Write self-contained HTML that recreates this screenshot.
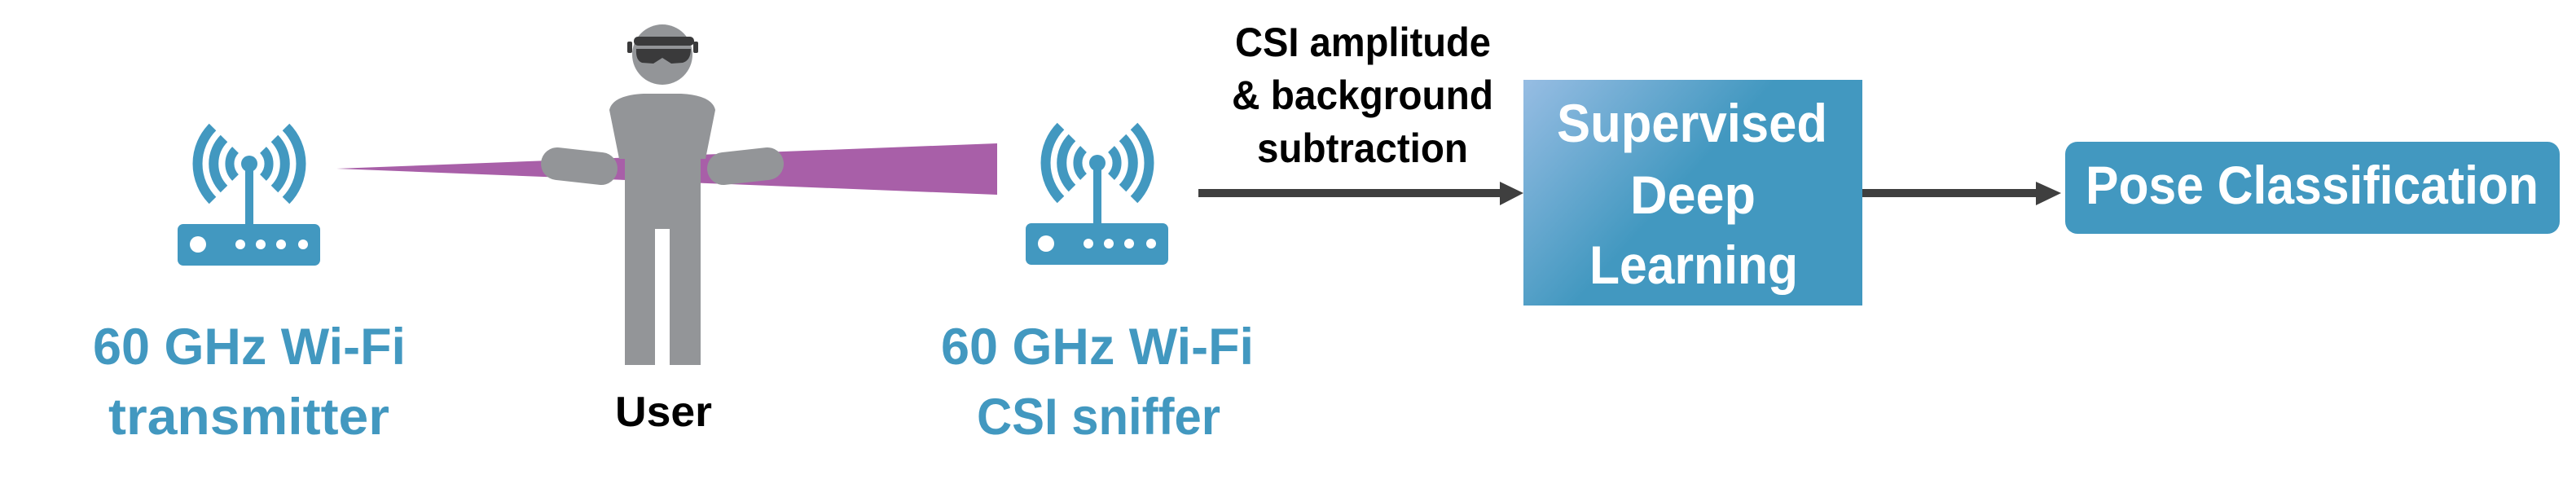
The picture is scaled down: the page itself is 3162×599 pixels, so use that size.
<!DOCTYPE html>
<html><head><meta charset="utf-8"><style>
html,body{margin:0;padding:0;background:#fff;}
svg{display:block;}
text{font-family:"Liberation Sans",sans-serif;font-weight:bold;}
</style></head><body>
<svg width="3162" height="599" viewBox="0 0 3162 599" xmlns="http://www.w3.org/2000/svg">
<defs>
<linearGradient id="g" x1="0" y1="0" x2="1" y2="0.6">
<stop offset="0" stop-color="#97bde3"/>
<stop offset="0.55" stop-color="#4298c0"/>
<stop offset="1" stop-color="#4298c0"/>
</linearGradient>
<g id="router">
<g fill="none" stroke="#4298c0" stroke-linecap="butt">
<path d="M261,156 A64,64 0 0 0 261,246" stroke-width="12"/>
<path d="M351,156 A64,64 0 0 1 351,246" stroke-width="12"/>
<path d="M275,170 A44,44 0 0 0 275,232" stroke-width="12"/>
<path d="M337,170 A44,44 0 0 1 337,232" stroke-width="12"/>
<path d="M289,184 A24,24 0 0 0 289,218" stroke-width="11"/>
<path d="M323,184 A24,24 0 0 1 323,218" stroke-width="11"/>
</g>
<circle cx="306" cy="201" r="10" fill="#4298c0"/>
<rect x="301" y="201" width="10" height="78" fill="#4298c0"/>
<rect x="218" y="275" width="175" height="51" rx="7" fill="#4298c0"/>
<circle cx="243" cy="300" r="10" fill="#fff"/>
<circle cx="295" cy="300" r="6" fill="#fff"/>
<circle cx="320" cy="300" r="6" fill="#fff"/>
<circle cx="345" cy="300" r="6" fill="#fff"/>
<circle cx="372" cy="300" r="6" fill="#fff"/>
</g>
</defs>

<!-- beam -->
<polygon points="413,207 1224,176 1224,239" fill="#a85fa8"/>

<!-- routers -->
<use href="#router"/>
<use href="#router" transform="translate(1041,-1)"/>

<!-- person -->
<g fill="#939598">
<circle cx="813" cy="67" r="37"/>
<path d="M760,195 L748,135 Q752,117 790,115 L836,115 Q874,117 878,135 L866,195 Z"/>
<line x1="684" y1="201" x2="738" y2="207" stroke="#939598" stroke-width="40" stroke-linecap="round"/>
<line x1="942" y1="201" x2="888" y2="207" stroke="#939598" stroke-width="40" stroke-linecap="round"/>
<rect x="767" y="175" width="93" height="273"/>
</g>
<rect x="804" y="281" width="18" height="167" fill="#fff"/>
<g fill="#3a3a3b">
<rect x="778" y="45" width="74" height="11" rx="5"/>
<path d="M781,60 L848,60 Q848,74 838,77 L824,78 L813,71 L802,78 L788,77 Q780,74 781,60 Z"/>
<rect x="770" y="51" width="6" height="14" rx="2"/>
<rect x="851" y="51" width="6" height="14" rx="2"/>
</g>

<!-- arrows -->
<rect x="1471" y="232" width="375" height="10" fill="#3f3f3f"/>
<polygon points="1841,223 1870,237 1841,252" fill="#3f3f3f"/>
<rect x="2286" y="232" width="218" height="10" fill="#3f3f3f"/>
<polygon points="2499,223 2530,237 2499,252" fill="#3f3f3f"/>

<!-- boxes -->
<rect x="1870" y="98" width="416" height="277" fill="url(#g)"/>
<rect x="2535" y="174" width="607" height="113" rx="15" fill="#4298c0"/>

<!-- labels -->
<g fill="#4298c0" font-size="63">
<text x="114" y="447" textLength="384" lengthAdjust="spacingAndGlyphs">60 GHz Wi-Fi</text>
<text x="133" y="533" textLength="345" lengthAdjust="spacingAndGlyphs">transmitter</text>
<text x="1155" y="447" textLength="384" lengthAdjust="spacingAndGlyphs">60 GHz Wi-Fi</text>
<text x="1199" y="533" textLength="299" lengthAdjust="spacingAndGlyphs">CSI sniffer</text>
</g>
<text x="755" y="523" font-size="52" fill="#000" textLength="119" lengthAdjust="spacingAndGlyphs">User</text>
<g fill="#000" font-size="50">
<text x="1516" y="69" textLength="314" lengthAdjust="spacingAndGlyphs">CSI amplitude</text>
<text x="1512" y="134" textLength="321" lengthAdjust="spacingAndGlyphs">&amp; background</text>
<text x="1543" y="199" textLength="259" lengthAdjust="spacingAndGlyphs">subtraction</text>
</g>
<g fill="#fff" font-size="66">
<text x="1911" y="174" textLength="332" lengthAdjust="spacingAndGlyphs">Supervised</text>
<text x="2001" y="262" textLength="154" lengthAdjust="spacingAndGlyphs">Deep</text>
<text x="1951" y="348" textLength="256" lengthAdjust="spacingAndGlyphs">Learning</text>
<text x="2560" y="250" textLength="556" lengthAdjust="spacingAndGlyphs">Pose Classification</text>
</g>
</svg>
</body></html>
